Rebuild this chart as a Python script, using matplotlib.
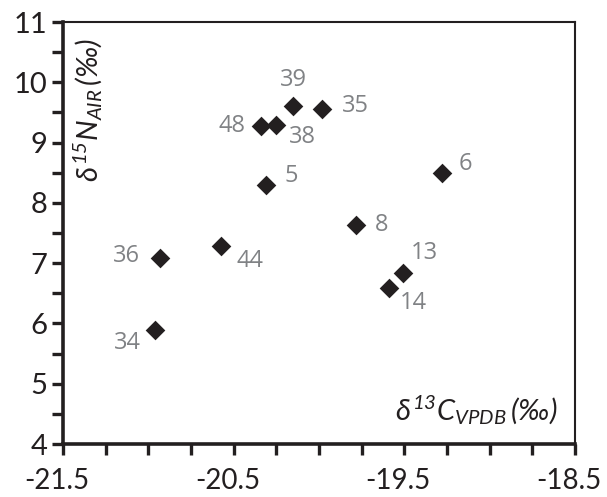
import matplotlib
matplotlib.use("Agg")
import matplotlib.pyplot as plt
import matplotlib.transforms as mtransforms
from matplotlib.ticker import FixedLocator, FuncFormatter

# d13C / d15N values per sample
sample_ids = ["34", "36", "44", "5", "48", "38", "39", "35", "6", "8", "13", "14"]
d13c = [-20.96, -20.93, -20.575, -20.31, -20.34, -20.25, -20.15, -19.98, -19.28, -19.78, -19.51, -19.59]
d15n = [5.89, 7.09, 7.29, 8.29, 9.28, 9.30, 9.60, 9.56, 8.50, 7.64, 6.83, 6.59]
# label offsets in points
label_dx = [-20, -24, 21, 18, -21, 19, 0, 24, 17, 18, 16, 18]
label_dy = [-9, 1, -11, 7, 0, -9, 19, 2, 6, 0, 15, -11]

x_major = [-21.5, -20.5, -19.5, -18.5]
x_minor = [-21.25, -21.0, -20.75, -20.25, -20.0, -19.75, -19.25, -19.0, -18.75]
y_major = [4, 5, 6, 7, 8, 9, 10, 11]
y_minor = [4.5, 5.5, 6.5, 7.5, 8.5, 9.5, 10.5]

plt.rcParams['font.family'] = ['Lato', 'DejaVu Sans']
plt.rcParams['axes.unicode_minus'] = False
plt.rcParams['mathtext.fontset'] = 'custom'
plt.rcParams['mathtext.it'] = 'Lato:italic'
plt.rcParams['mathtext.rm'] = 'Lato:italic'

fig = plt.figure(figsize=(6.07, 4.97), dpi=100)
ax = fig.add_axes([0.1038, 0.1066, 0.8432, 0.8491])

ax.scatter(d13c, d15n, marker='D', s=100, color='#231f20', zorder=3, linewidths=0)

for sid, x, y, dx, dy in zip(sample_ids, d13c, d15n, label_dx, label_dy):
    ax.annotate(sid, (x, y), xytext=(dx, dy), textcoords='offset points',
                ha='center', va='center', fontsize=17, color='#808285',
                family=['Open Sans', 'DejaVu Sans'])

ax.set_xlim(-21.5, -18.5)
ax.set_ylim(4, 11)
ax.xaxis.set_major_locator(FixedLocator(x_major))
ax.xaxis.set_minor_locator(FixedLocator(x_minor))
ax.yaxis.set_major_locator(FixedLocator(y_major))
ax.yaxis.set_minor_locator(FixedLocator(y_minor))
ax.xaxis.set_major_formatter(FuncFormatter(lambda v, p: f"{v:.1f}"))
ax.yaxis.set_major_formatter(FuncFormatter(lambda v, p: f"{v:.0f}"))

ax.tick_params(which='both', direction='out', width=2.4, color='#231f20',
               top=False, right=False)
ax.tick_params(which='major', length=8, labelsize=21, pad=3, labelcolor='#231f20')
ax.tick_params(axis='x', which='major', labelsize=20, pad=9)
ax.tick_params(which='minor', length=8)

# nudge x tick labels a bit left, like the original
shift = mtransforms.ScaledTranslation(-6 / 100, 0, fig.dpi_scale_trans)
for lbl in ax.get_xticklabels():
    lbl.set_transform(lbl.get_transform() + shift)

for side in ['left', 'bottom']:
    ax.spines[side].set_linewidth(2.6)
    ax.spines[side].set_color('#231f20')
for side in ['top', 'right']:
    ax.spines[side].set_linewidth(1.5)
    ax.spines[side].set_color('#231f20')

ax.text(0.017, 0.62, r'$\delta^{15}N_{AIR}\,(‰)$', transform=ax.transAxes,
        rotation=90, ha='left', va='bottom', fontsize=21, color='#231f20')
ax.text(0.965, 0.04, r'$\delta^{13}C_{VPDB}\,(‰)$', transform=ax.transAxes,
        ha='right', va='bottom', fontsize=21, color='#231f20')

fig.savefig("out.png", dpi=100)
